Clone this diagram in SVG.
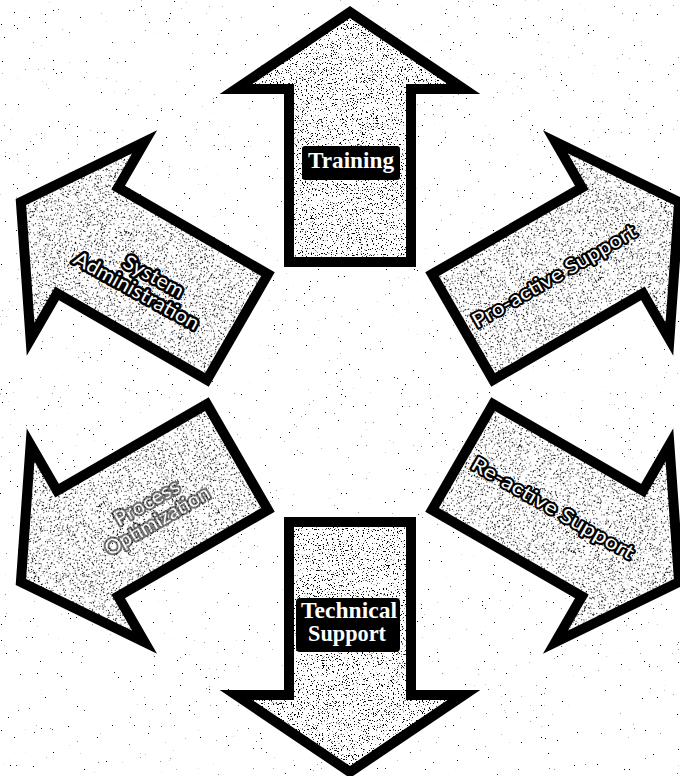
<svg xmlns="http://www.w3.org/2000/svg" xmlns:xlink="http://www.w3.org/1999/xlink" width="680" height="776" viewBox="0 0 680 776">
  <style>
    .afill { fill: #ffffff; stroke: none; }
    .astip { fill: #000000; stroke: none; filter: url(#stip); }
    .aedge { fill: none; stroke: #000000; stroke-width: 10; stroke-linejoin: miter; stroke-miterlimit: 6; }
    .serif { font-family: "Liberation Serif", "Times New Roman", serif; font-weight: bold; font-size: 23px; fill: #ffffff; text-anchor: middle; }
    .sans { font-family: "Lato", "Liberation Sans", Arial, sans-serif; font-size: 20px; fill: #ffffff; stroke: #000000; stroke-width: 5; stroke-linejoin: round; paint-order: stroke; text-anchor: middle; }
    .sans.thin { stroke-width: 4; }
    .faded { opacity: 0.55; }
    .blk { fill: #000000; }
  </style>
  <defs>
    <path id="arrow" d="M -61,-130 L -61,-303 L -114,-303 L 0,-380 L 114,-303 L 61,-303 L 61,-130 Z"/>
    <filter id="stip" x="0" y="0" width="1" height="1" color-interpolation-filters="sRGB">
      <feTurbulence type="fractalNoise" baseFrequency="0.8" numOctaves="2" seed="7"/>
      <feColorMatrix type="matrix" values="0 0 0 0 0  0 0 0 0 0  0 0 0 0 0  18 0 0 0 -11.2"/>
      <feComposite in2="SourceGraphic" operator="in"/>
    </filter>
    <filter id="bgnoise" x="0" y="0" width="1" height="1" color-interpolation-filters="sRGB">
      <feTurbulence type="fractalNoise" baseFrequency="0.75" numOctaves="2" seed="21"/>
      <feColorMatrix type="matrix" values="0 0 0 0 0  0 0 0 0 0  0 0 0 0 0  25 0 0 0 -19.6"/>
      <feComposite in2="SourceGraphic" operator="in"/>
    </filter>
  </defs>

  <rect x="0" y="0" width="680" height="776" fill="#ffffff"/>
  <rect x="0" y="0" width="680" height="776" fill="#000000" filter="url(#bgnoise)"/>

  <g id="node-training">
    <g transform="translate(350,392)">
      <use xlink:href="#arrow" class="afill"/>
      <use xlink:href="#arrow" class="astip"/>
      <use xlink:href="#arrow" class="aedge"/>
    </g>
    <rect class="blk" x="302" y="146" width="98" height="34" rx="3"/>
    <text class="serif" x="351" y="168" textLength="86" lengthAdjust="spacingAndGlyphs">Training</text>
  </g>

  <g id="node-proactive">
    <g transform="translate(350,392) rotate(60)">
      <use xlink:href="#arrow" class="afill"/>
      <use xlink:href="#arrow" class="astip"/>
      <use xlink:href="#arrow" class="aedge"/>
    </g>
    <text class="sans thin" transform="translate(554,276) rotate(-30)" x="0" y="7" textLength="186" lengthAdjust="spacingAndGlyphs">Pro-active Support</text>
  </g>

  <g id="node-reactive">
    <g transform="translate(350,392) rotate(120)">
      <use xlink:href="#arrow" class="afill"/>
      <use xlink:href="#arrow" class="astip"/>
      <use xlink:href="#arrow" class="aedge"/>
    </g>
    <text class="sans thin" transform="translate(553,508) rotate(30)" x="0" y="7" textLength="184" lengthAdjust="spacingAndGlyphs">Re-active Support</text>
  </g>

  <g id="node-technical">
    <g transform="translate(350,392) rotate(180)">
      <use xlink:href="#arrow" class="afill"/>
      <use xlink:href="#arrow" class="astip"/>
      <use xlink:href="#arrow" class="aedge"/>
    </g>
    <rect class="blk" x="296" y="598" width="104" height="54" rx="4"/>
    <text class="serif" x="349" y="618" textLength="96" lengthAdjust="spacingAndGlyphs">Technical</text>
    <text class="serif" x="347" y="641" textLength="78" lengthAdjust="spacingAndGlyphs">Support</text>
  </g>

  <g id="node-process">
    <g transform="translate(350,392) rotate(240)">
      <use xlink:href="#arrow" class="afill"/>
      <use xlink:href="#arrow" class="astip"/>
      <use xlink:href="#arrow" class="aedge"/>
    </g>
    <g class="faded" transform="translate(152,512) rotate(-30)">
      <text class="sans thin" x="0" y="-4" textLength="72" lengthAdjust="spacingAndGlyphs">Process</text>
      <text class="sans thin" x="0" y="17" textLength="118" lengthAdjust="spacingAndGlyphs">Optimization</text>
    </g>
  </g>

  <g id="node-sysadmin">
    <g transform="translate(350,392) rotate(300)">
      <use xlink:href="#arrow" class="afill"/>
      <use xlink:href="#arrow" class="astip"/>
      <use xlink:href="#arrow" class="aedge"/>
    </g>
    <g transform="translate(142,281) rotate(29)">
      <text class="sans" x="8" y="-3" textLength="66" lengthAdjust="spacingAndGlyphs">System</text>
      <text class="sans" x="0" y="18" textLength="140" lengthAdjust="spacingAndGlyphs">Administration</text>
    </g>
  </g>
</svg>
